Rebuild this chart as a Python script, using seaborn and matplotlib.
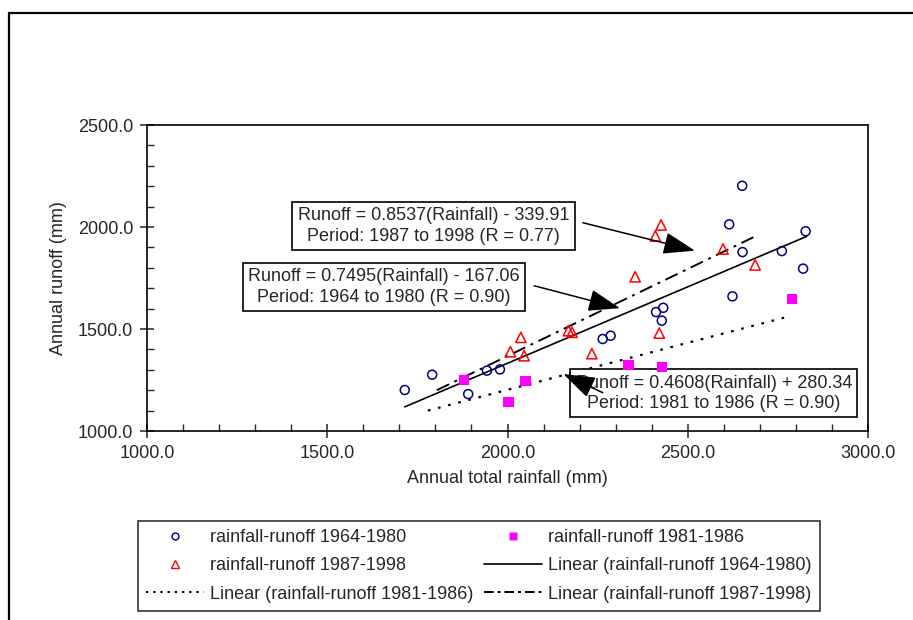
import numpy as np
import pandas as pd
import matplotlib
matplotlib.use('Agg')
import matplotlib.pyplot as plt
from matplotlib.patches import Rectangle
from matplotlib.lines import Line2D
from matplotlib.ticker import MultipleLocator, FormatStrFormatter
import seaborn as sns

# rainfall-runoff 1964-1980
rain_6480 = [2651, 2615, 2827, 2652, 2761, 2820, 2624, 2412, 2432, 2428, 2264, 2286, 1943, 1979, 1791, 1715, 1891]
runoff_6480 = [2202, 2013, 1979, 1877, 1882, 1796, 1660, 1583, 1604, 1541, 1451, 1467, 1296, 1302, 1276, 1201, 1181]

# rainfall-runoff 1981-1986
rain_8186 = [2789, 2336, 2428, 1879, 2050, 2003]
runoff_8186 = [1646, 1323, 1315, 1250, 1245, 1141]

# rainfall-runoff 1987-1998
rain_8798 = [2426, 2410, 2598, 2687, 2354, 2169, 2179, 2421, 2037, 2008, 2046, 2234]
runoff_8798 = [2010, 1956, 1892, 1814, 1756, 1492, 1484, 1480, 1459, 1389, 1369, 1379]

# trend lines (slope, intercept, x range)
fit_6480 = (0.7495, -167.06, [1715, 2830])
fit_8186 = (0.4608, 280.34, [1779, 2788])
fit_8798 = (0.8537, -339.91, [1804, 2682])

sns.set_style('ticks')
plt.rcParams['font.family'] = ['Liberation Sans', 'DejaVu Sans']
FS = 13

fig = plt.figure(figsize=(9.13, 6.2), dpi=100)
ax = fig.add_axes([147/913, 1-431/620, 721/913, 306/620])

sns.scatterplot(x=rain_6480, y=runoff_6480, ax=ax, marker='o', s=42,
                facecolors='none', edgecolor='#000080', linewidth=1.1, zorder=3)
sns.scatterplot(x=rain_8186, y=runoff_8186, ax=ax, marker='s', s=55,
                color='#ff00ff', edgecolor='none', linewidth=0, zorder=3)
sns.scatterplot(x=rain_8798, y=runoff_8798, ax=ax, marker='^', s=55,
                facecolors='none', edgecolor='#ff0000', linewidth=1.1, zorder=3)

def trend(fit):
    m, b, xr = fit
    xs = np.array(xr, dtype=float)
    return xs, m * xs + b

x, y = trend(fit_6480)
sns.lineplot(x=x, y=y, ax=ax, color='black', lw=1.2)
x, y = trend(fit_8186)
l2 = sns.lineplot(x=x, y=y, ax=ax, color='black', lw=1.6).lines[-1]
l2.set_dashes((1.2, 3.5))
x, y = trend(fit_8798)
l3 = sns.lineplot(x=x, y=y, ax=ax, color='black', lw=1.4).lines[-1]
l3.set_dashes((7, 3, 1.5, 3))

ax.set_xlim(1000, 3000)
ax.set_ylim(1000, 2500)
ax.xaxis.set_major_locator(MultipleLocator(500))
ax.xaxis.set_minor_locator(MultipleLocator(100))
ax.yaxis.set_major_locator(MultipleLocator(500))
ax.yaxis.set_minor_locator(MultipleLocator(100))
ax.xaxis.set_major_formatter(FormatStrFormatter('%.1f'))
ax.yaxis.set_major_formatter(FormatStrFormatter('%.1f'))
ax.tick_params(which='major', direction='inout', length=10, width=1.1, labelsize=FS, pad=5)
ax.tick_params(which='minor', direction='in', length=5, width=1.0)
for s in ax.spines.values():
    s.set_color('black')
    s.set_linewidth(1.2)
ax.set_xlabel('Annual total rainfall (mm)', fontsize=FS, labelpad=6)
ax.set_ylabel('Annual runoff (mm)', fontsize=FS, labelpad=8)

# equation boxes
box = dict(boxstyle='square,pad=0.3', fc='white', ec='black', lw=1.2)
ax.text(1795, 2005, 'Runoff = 0.8537(Rainfall) - 339.91\nPeriod: 1987 to 1998 (R = 0.77)',
        ha='center', va='center', ma='center', fontsize=FS, bbox=box, zorder=4, linespacing=1.25)
ax.text(1658, 1706, 'Runoff = 0.7495(Rainfall) - 167.06\nPeriod: 1964 to 1980 (R = 0.90)',
        ha='center', va='center', ma='center', fontsize=FS, bbox=box, zorder=4, linespacing=1.25)
ax.text(2572, 1185, 'Runoff = 0.4608(Rainfall) + 280.34\nPeriod: 1981 to 1986 (R = 0.90)',
        ha='center', va='center', ma='center', fontsize=FS, bbox=box, zorder=2, linespacing=1.25)

arrow = dict(arrowstyle='-|>,head_length=1.1,head_width=0.38', color='black', lw=1.1,
             mutation_scale=18, shrinkA=0, shrinkB=0)
ax.annotate('', xy=(2520, 1884), xytext=(2209, 2021), arrowprops=arrow, zorder=5)
ax.annotate('', xy=(2312, 1602), xytext=(2074, 1712), arrowprops=arrow, zorder=5)
ax.annotate('', xy=(2155, 1279), xytext=(2264, 1188), arrowprops=arrow, zorder=5)

# legend (column-major order)
h_c = Line2D([], [], ls='none', marker='o', mfc='none', mec='#000080', ms=5, mew=1.0)
h_s = Line2D([], [], ls='none', marker='s', mfc='#ff00ff', mec='none', ms=6)
h_t = Line2D([], [], ls='none', marker='^', mfc='none', mec='#ff0000', ms=6, mew=1.0)
h_l1 = Line2D([], [], color='black', lw=1.2)
h_l2 = Line2D([], [], color='black', lw=1.4, dashes=(1.2, 2.5))
h_l3 = Line2D([], [], color='black', lw=1.4, dashes=(5, 2, 1.5, 2))
handles = [h_c, h_t, h_l2, h_s, h_l1, h_l3]
labels = ['rainfall-runoff 1964-1980', 'rainfall-runoff 1987-1998',
          'Linear (rainfall-runoff 1981-1986)', 'rainfall-runoff 1981-1986',
          'Linear (rainfall-runoff 1964-1980)', 'Linear (rainfall-runoff 1987-1998)']
leg = fig.legend(handles, labels, ncol=2, loc='center', bbox_to_anchor=(479/913, 1-566/620),
                 fontsize=FS, frameon=True, fancybox=False, edgecolor='black',
                 handlelength=3.2, handletextpad=0.35, columnspacing=0.6,
                 labelspacing=0.62, borderpad=0.45)
leg.get_frame().set_linewidth(1.2)

# outer frame
fig.add_artist(Rectangle((9/913, -0.1), 1.2, 1.1 - 13/620, transform=fig.transFigure,
                         fill=False, ec='black', lw=1.6))

fig.savefig('out.png', dpi=100)
